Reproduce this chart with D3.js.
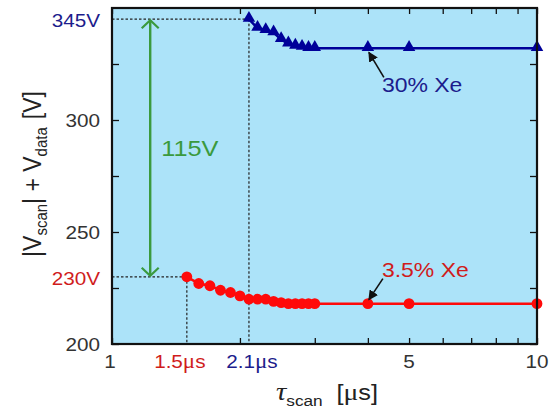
<!DOCTYPE html>
<html>
<head>
<meta charset="utf-8">
<script src="https://cdn.jsdelivr.net/npm/d3@7"></script>
<style>
body { margin: 0; background: #fff; }
svg { display: block; font-family: 'Liberation Sans', Arial, sans-serif; }
</style>
</head>
<body>
<svg id="chart" width="557" height="412"></svg>
<script>
// values
const tauRed = [1.5, 1.6, 1.7, 1.8, 1.9, 2.0, 2.1, 2.2, 2.3, 2.4, 2.5, 2.6, 2.7, 2.8, 2.9, 3.0, 4, 5, 10];
const vRed = [230, 227, 226, 224, 223, 221.5, 220, 220, 220, 219, 218.5, 218, 218, 218, 218, 218, 218, 218, 218];
const tauBlue = [2.1, 2.2, 2.3, 2.4, 2.5, 2.6, 2.7, 2.8, 2.9, 3.0, 4, 5, 10];
const vBlue = [345, 341, 340, 339, 336, 334, 333, 332.5, 332, 332, 332, 332, 332];
const xTickLabels = [1, 5, 10];
const xMinorTicks = [2, 3, 4, 6, 7, 8, 9];
const yTickLabels = [200, 250, 300];
const yMinorTicks = [225, 275, 325];
const markTau = [1.5, 2.1];   // onset of each curve
const markV = [230, 345];
const spanTau = 1.23;         // where the 115V arrow sits

const svg = d3.select('#chart');
const x = d3.scaleLog().domain([1, 10]).range([112, 537]);
const y = d3.scaleLinear().domain([200, 350]).range([344, 8]);
const sx = 1.15; // the source picture is a bit wide

const navy = '#1c1c8c', red = '#d01c1c', green = '#3a9a3e';

svg.append('rect')
    .attr('x', x(1)).attr('y', y(350))
    .attr('width', x(10) - x(1)).attr('height', y(200) - y(350))
    .attr('fill', '#ace3f9');

// dotted guides at the onsets
const guides = svg.append('g').attr('stroke', '#222').attr('stroke-width', 1.2).attr('stroke-dasharray', '2.5,2');
markTau.forEach((t, i) => {
    guides.append('line').attr('x1', x(1)).attr('x2', x(t)).attr('y1', y(markV[i])).attr('y2', y(markV[i]));
    guides.append('line').attr('x1', x(t)).attr('x2', x(t)).attr('y1', y(markV[i])).attr('y2', y(200));
});

// markers
const defs = svg.append('defs');
defs.append('marker').attr('id', 'chev')
    .attr('viewBox', '0 0 20 20').attr('refX', 10).attr('refY', 10)
    .attr('markerWidth', 20).attr('markerHeight', 20)
    .attr('markerUnits', 'userSpaceOnUse').attr('orient', 'auto-start-reverse')
    .append('path').attr('d', 'M2,1.5 L10,10 L2,18.5')
    .attr('fill', 'none').attr('stroke', green).attr('stroke-width', 2.2);
defs.append('marker').attr('id', 'head')
    .attr('viewBox', '0 0 10 10').attr('refX', 9).attr('refY', 5)
    .attr('markerWidth', 10).attr('markerHeight', 10)
    .attr('markerUnits', 'userSpaceOnUse').attr('orient', 'auto')
    .append('path').attr('d', 'M0,0 L10,5 L0,10 Z').attr('fill', '#111');

svg.append('line')
    .attr('x1', x(spanTau)).attr('x2', x(spanTau))
    .attr('y1', y(markV[1]) + 1).attr('y2', y(markV[0]) - 1)
    .attr('stroke', green).attr('stroke-width', 2.4)
    .attr('marker-start', 'url(#chev)').attr('marker-end', 'url(#chev)');

// series
const line = d3.line().x(d => x(d[0])).y(d => y(d[1]));
const red35 = tauRed.map((t, i) => [t, vRed[i]]);
const blue30 = tauBlue.map((t, i) => [t, vBlue[i]]);

svg.append('path').datum(red35).attr('d', line)
    .attr('fill', 'none').attr('stroke', '#ff0a0a').attr('stroke-width', 2.6);
svg.append('g').selectAll('circle').data(red35).enter().append('circle')
    .attr('cx', d => x(d[0])).attr('cy', d => y(d[1])).attr('r', 5.4)
    .attr('fill', '#ff0a0a');

svg.append('path').datum(blue30).attr('d', line)
    .attr('fill', 'none').attr('stroke', '#000099').attr('stroke-width', 2.6);
svg.append('g').selectAll('path').data(blue30).enter().append('path')
    .attr('d', d3.symbol(d3.symbolTriangle).size(68))
    .attr('transform', d => 'translate(' + x(d[0]) + ',' + (y(d[1]) - 1) + ')')
    .attr('fill', '#000099');

// ticks point inward on all four sides
const allX = xTickLabels.concat(xMinorTicks);
const allY = yTickLabels.concat(yMinorTicks);
function ticksOnly(g) {
    g.select('.domain').remove();
    g.selectAll('line').attr('stroke', '#111').attr('stroke-width', 1.3);
}
svg.append('g').attr('transform', 'translate(0,' + y(200) + ')')
    .call(d3.axisBottom(x).tickValues(allX).tickSize(-6).tickFormat('')).call(ticksOnly);
svg.append('g').attr('transform', 'translate(0,' + y(350) + ')')
    .call(d3.axisTop(x).tickValues(allX).tickSize(-6).tickFormat('')).call(ticksOnly);
svg.append('g').attr('transform', 'translate(' + x(1) + ',0)')
    .call(d3.axisLeft(y).tickValues(allY).tickSize(-7).tickFormat('')).call(ticksOnly);
svg.append('g').attr('transform', 'translate(' + x(10) + ',0)')
    .call(d3.axisRight(y).tickValues(allY).tickSize(-7).tickFormat('')).call(ticksOnly);

svg.append('rect')
    .attr('x', x(1)).attr('y', y(350))
    .attr('width', x(10) - x(1)).attr('height', y(200) - y(350))
    .attr('fill', 'none').attr('stroke', '#111').attr('stroke-width', 2.2);

// text, stretched to match the source
function label(px, py, txt, anchor, color, size) {
    return svg.append('text')
        .attr('transform', 'translate(' + px + ',' + py + ') scale(' + sx + ',1)')
        .attr('text-anchor', anchor).attr('fill', color)
        .attr('font-size', size).text(txt);
}
function muLabel(px, py, num, color) {
    const t = label(px, py, num, 'middle', color, 18);
    t.append('tspan').attr('font-family', "'Liberation Serif', serif").attr('font-size', 20).text('μ');
    t.append('tspan').text('s');
}

yTickLabels.forEach(v => label(100, y(v) + 7, v, 'end', '#333', 18));
xTickLabels.forEach(t => label(x(t) - (t === 1 ? 2 : 0), 368, t, 'middle', '#333', 18));

label(100, y(markV[1]) + 8, markV[1] + 'V', 'end', navy, 18);
label(100, y(markV[0]) + 8, markV[0] + 'V', 'end', red, 18);
muLabel(x(markTau[0]) - 7, 368, markTau[0], red);
muLabel(x(markTau[1]) + 3, 368, markTau[1], navy);

label(x(spanTau) + 11, 156, (markV[1] - markV[0]) + 'V', 'start', green, 22);

// curve annotations
svg.append('line')
    .attr('x1', x(4) + 16).attr('y1', y(332) + 29)
    .attr('x2', x(4) + 1).attr('y2', y(332) + 4)
    .attr('stroke', '#111').attr('stroke-width', 1.6).attr('marker-end', 'url(#head)');
label(x(4) + 14, y(332) + 44, '30% Xe', 'start', navy, 20);

svg.append('line')
    .attr('x1', x(4) + 15).attr('y1', y(218) - 25)
    .attr('x2', x(4) + 1).attr('y2', y(218) - 4)
    .attr('stroke', '#111').attr('stroke-width', 1.6).attr('marker-end', 'url(#head)');
label(x(4) + 14, y(218) - 27, '3.5% Xe', 'start', red, 20);

// axis titles
const xt = svg.append('text')
    .attr('transform', 'translate(' + 327 + ',400) scale(' + sx + ',1)')
    .attr('text-anchor', 'middle').attr('fill', '#222').attr('font-size', 22);
xt.append('tspan').attr('font-family', "'Liberation Serif', serif").attr('font-style', 'italic').attr('font-size', 25).text('τ');
xt.append('tspan').attr('font-size', 15).attr('dy', 6).text('scan');
xt.append('tspan').attr('dy', -6).attr('dx', 12).text('[');
xt.append('tspan').attr('font-family', "'Liberation Serif', serif").attr('font-size', 24).text('μ');
xt.append('tspan').text('s]');

const yt = svg.append('text')
    .attr('transform', 'translate(41,174) scale(' + sx + ',1) rotate(-90)')
    .attr('text-anchor', 'middle').attr('fill', '#222').attr('font-size', 23);
yt.append('tspan').text('|V');
yt.append('tspan').attr('font-size', 15).attr('dy', 5).text('scan');
yt.append('tspan').attr('dy', -5).text('| + V');
yt.append('tspan').attr('font-size', 15).attr('dy', 5).text('data');
yt.append('tspan').attr('dy', -5).attr('dx', 8).text('[V]');
</script>
</body>
</html>
